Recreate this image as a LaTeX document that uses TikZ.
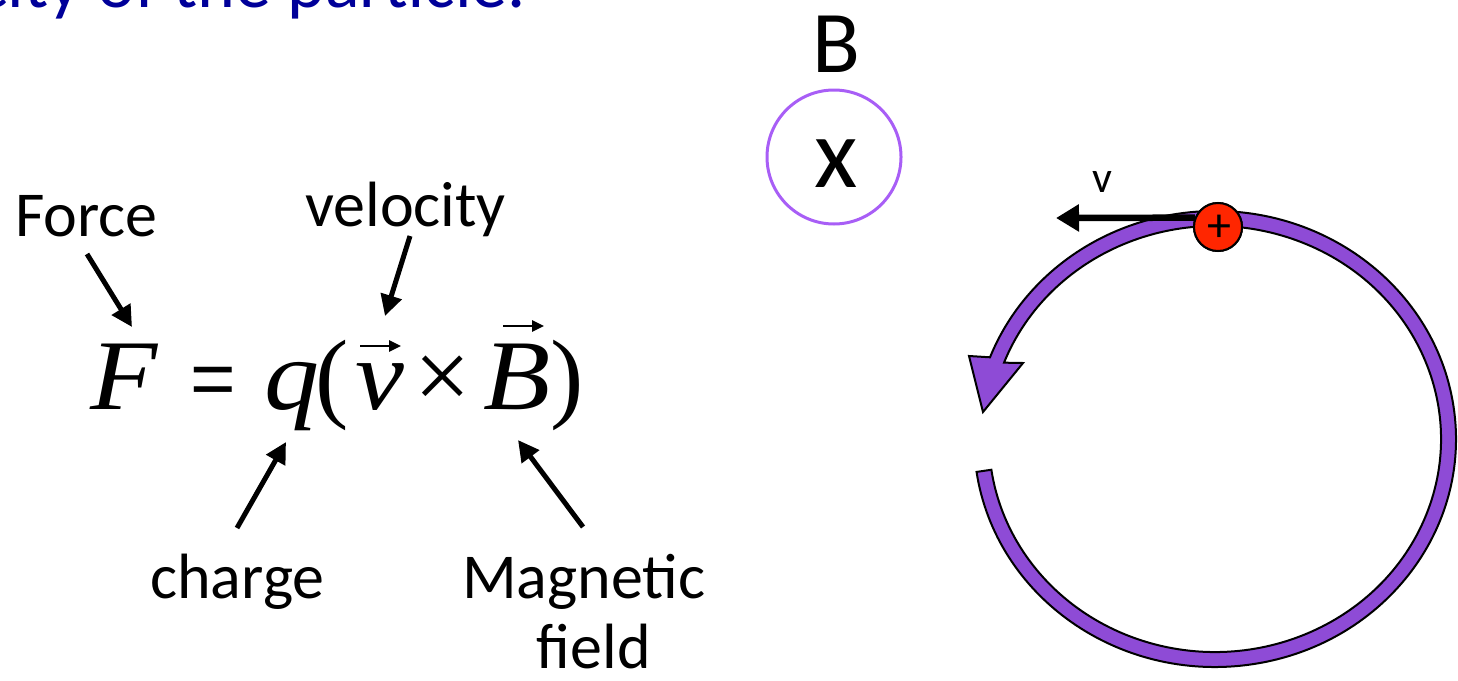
\documentclass[tikz,border=0pt]{standalone}
\usepackage{fontspec}
\setmainfont{Carlito}
\newfontfamily\eqfont{Liberation Serif}
\newfontfamily\eqfontw[FakeStretch=1.1]{Liberation Serif}
\newfontfamily\eqsans{Liberation Sans}
\usetikzlibrary{arrows.meta}
\definecolor{titleblue}{RGB}{0,0,153}
\definecolor{bcirc}{RGB}{168,94,246}
\definecolor{bandpurple}{RGB}{142,75,214}
\definecolor{chargered}{RGB}{255,38,0}
\begin{document}
\begin{tikzpicture}[x=1pt,y=1pt,
  lbl/.style={font=\fontsize{64}{64}\selectfont, inner sep=0pt, anchor=base west},
  eqit/.style={font=\eqfontw\fontsize{100}{100}\selectfont\itshape, inner sep=0pt, anchor=base west},
  equp/.style={font=\eqfont\fontsize{100}{100}\selectfont, inner sep=0pt, anchor=base west},
  ann/.style={line width=5pt, -{Triangle[length=21pt,width=21pt]}},
  varrow/.style={line width=2.5pt, -{Triangle[length=12pt,width=11pt]}},
  band/.style={fill=bandpurple, draw=black, line width=2pt, line join=miter}
]
\useasboundingbox (0,-680) rectangle (1458,0);
\clip (0,-680) rectangle (1458,0);

% title fragment
\node[anchor=base west, inner sep=0pt, text=titleblue, font=\fontsize{72}{72}\selectfont] (title) at (-23,-7) {city of the particle.};

% labels
\node[lbl] (force) at (15,-236) {Force};
\node[lbl] (velocity) at (305,-226) {velocity};
\node[lbl] (charge) at (150,-598) {charge};
\node[lbl] (magnetic) at (462,-598) {Magnetic};
\node[lbl, anchor=base] (field) at (594,-668) {field};

% equation
\node[eqit] (F) at (90,-409) {F};
\node[inner sep=0pt, anchor=base west, font=\eqsans\fontsize{78}{78}\selectfont] (eq) at (190,-405) {=};
\node[eqit] (q) at (264,-409) {q};
\node[equp] (lp) at (315,-409) {(};
\node[eqit] (v) at (355,-409) {v};
\node[equp] (times) at (414,-409) {×};
\node[eqit] (B) at (483,-409) {B};
\node[equp] (rp) at (550,-409) {)};
\coordinate (vs) at (360,-346); \coordinate (ve) at (401,-346);
\coordinate (bs) at (503,-326); \coordinate (be) at (544,-326);
\draw[varrow] (vs) -- (ve);
\draw[varrow] (bs) -- (be);

% annotation arrows
\coordinate (fa) at (87,-254);   \coordinate (fb) at (132,-327);
\coordinate (va) at (410,-236);  \coordinate (vb) at (385,-316);
\coordinate (ca) at (237,-528);  \coordinate (cb) at (286,-442);
\coordinate (ma) at (583,-527);  \coordinate (mb) at (518,-440);
\draw[ann] (fa) -- (fb);
\draw[ann] (va) -- (vb);
\draw[ann] (ca) -- (cb);
\draw[ann] (ma) -- (mb);

% B field into page
\node[inner sep=0pt, anchor=base, font=\fontsize{88}{88}\selectfont] (blabel) at (836,-72) {B};
\node[circle, draw=bcirc, line width=3pt, minimum size=134pt, inner sep=0pt] (bring) at (834,-157) {};
\node[inner sep=0pt, anchor=base, font=\fontsize{100}{100}\selectfont] (bx) at (836,-187) {x};

% circular path with arrow head
\path[band] (1215,-439) ++(188.3:241 and 228)
  arc[start angle=188.3, end angle=519, x radius=241, y radius=228]
  -- (969,-356) -- (983,-412) -- (1023,-363) -- (1004.0,-362.67)
  arc[start angle=519, end angle=188.3, x radius=226, y radius=213]
  -- cycle;

% velocity arrow and charge
\coordinate (vtip) at (1056,-218);
\node[circle, fill=chargered, draw=black, line width=2pt, minimum size=48pt, inner sep=0pt] (qp) at (1218,-227) {};
\draw[line width=6.5pt, -{Triangle[length=23pt,width=26pt]}] (qp.158) -- (vtip);
\node[circle, fill=chargered, draw=black, line width=2pt, minimum size=48pt, inner sep=0pt] (qq) at (1218,-227) {};
\node[inner sep=0pt, anchor=center, font=\fontsize{48}{48}\selectfont] (plus) at (1219,-228) {+};
\node[inner sep=0pt, anchor=base, font=\fontsize{44}{44}\selectfont] (vlabel) at (1102,-192) {v};
\end{tikzpicture}
\end{document}
